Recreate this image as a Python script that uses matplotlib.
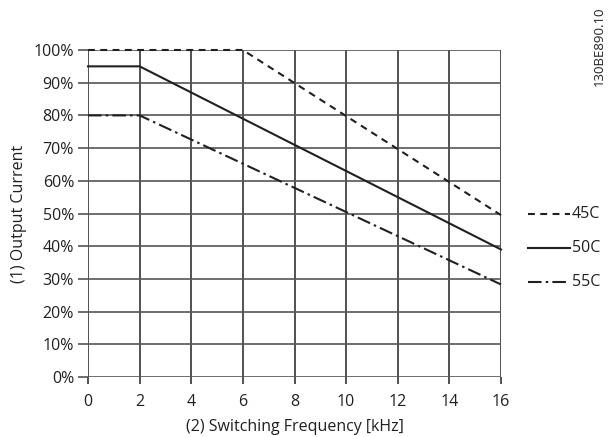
import matplotlib
matplotlib.use("Agg")
import matplotlib.pyplot as plt
from matplotlib.lines import Line2D

plt.rcParams['font.family'] = ['Open Sans', 'DejaVu Sans']

# Data
freq_45 = [0, 6, 16]
curr_45 = [100, 100, 49.5]
freq_50 = [0, 2, 16]
curr_50 = [95, 95, 39]
freq_55 = [0, 2, 16]
curr_55 = [80, 80, 28.3]
labels = ["45C", "50C", "55C"]
x_ticks = [0, 2, 4, 6, 8, 10, 12, 14, 16]
y_ticks = [0, 10, 20, 30, 40, 50, 60, 70, 80, 90, 100]
y_tick_labels = [f"{v}%" for v in y_ticks]

W, H = 609, 437
fs = 11.5
txt = '#231f20'
fig = plt.figure(figsize=(W / 100, H / 100), dpi=100)
ax = fig.add_axes([88 / W, (H - 377) / H, (501 - 88) / W, (377 - 50) / H])

ax.set_xlim(0, 16)
ax.set_ylim(0, 100)
for s in ax.spines.values():
    s.set_visible(False)

ax.set_xticks(x_ticks)
ax.set_yticks(y_ticks)
ax.set_yticklabels(y_tick_labels)
ax.grid(True, axis='x', color='#333333', linewidth=1.2)
ax.grid(True, axis='y', color='#555555', linewidth=1.2)
ax.tick_params(axis='x', length=5, width=1.2, color='#333333', pad=7, labelsize=fs, labelcolor=txt)
ax.tick_params(axis='y', length=7, width=1.2, color='#555555', pad=3, labelsize=fs, labelcolor=txt)
ax.set_axisbelow(True)

lw = 1.5
styles = [(0, (3.3, 2.6)), '-', (0, (6.5, 2.0, 1.2, 2.0))]
series = [(freq_45, curr_45), (freq_50, curr_50), (freq_55, curr_55)]
for (fx, cy), st in zip(series, styles):
    ax.plot(fx, cy, color=txt, lw=lw, linestyle=st, clip_on=False)

ax.set_xlabel("(2) Switching Frequency [kHz]", fontsize=fs, color=txt, labelpad=7)
ax.set_ylabel("(1) Output Current", fontsize=fs, color=txt, labelpad=5)

# Legend drawn at right, aligned with line ends
leg_y = [214, 248, 282]
for st, lab, yp in zip(styles, labels, leg_y):
    yf = (H - yp) / H
    fig.add_artist(Line2D([528 / W, 570 / W], [yf, yf], transform=fig.transFigure,
                          color=txt, lw=lw, linestyle=st))
    fig.text(572 / W, yf, lab, fontsize=fs, color=txt, va='center', ha='left')

fig.text(599 / W, (H - 7) / H, "130BE890.10", rotation=90, fontsize=9.5,
         color=txt, ha='center', va='top')

fig.savefig("out.png", dpi=100)
